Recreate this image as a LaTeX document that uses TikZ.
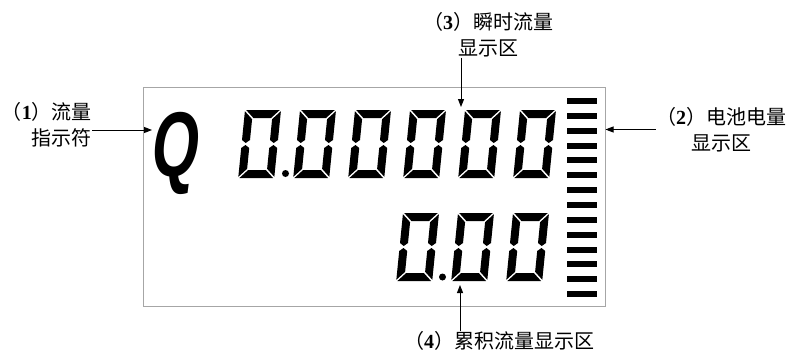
\documentclass[tikz,border=0pt]{standalone}
\usepackage{fontspec}
\setmainfont{Liberation Serif}
\newfontfamily\cjk{Noto Sans CJK SC}
\newfontfamily\qfont[FakeStretch=0.66,FakeSlant=0.12]{Liberation Sans}
\usetikzlibrary{arrows.meta}
\newcommand\pnum[1]{{\rmfamily\bfseries #1}}
\tikzset{
    lbl/.style={inner sep=0pt, align=center, font=\cjk\fontsize{20}{26}\selectfont},
    arr/.style={-{Triangle[length=8pt,width=6pt]}, line width=1pt},
    pics/lcdzero/.style={code={
        \fill (1.2,0) -- (34.8,0) -- (26.8,8) -- (9.2,8) -- cycle;
        \fill (0,1.2) -- (8,9.2) -- (8,30) -- (4,33) -- (0,30) -- cycle;
        \fill (36,1.2) -- (36,30) -- (32,33) -- (28,30) -- (28,9.2) -- cycle;
        \fill (4,35) -- (8,38) -- (8,58.8) -- (0,66.8) -- (0,38) -- cycle;
        \fill (32,35) -- (36,38) -- (36,66.8) -- (28,58.8) -- (28,38) -- cycle;
        \fill (1.2,68) -- (34.8,68) -- (26.8,60) -- (9.2,60) -- cycle;
    }}
}
\begin{document}
\begin{tikzpicture}[x=1pt, y=-1pt]
        \useasboundingbox (0,0) rectangle (789,356);
        \node[draw=gray!70, line width=1pt, minimum width=462pt, minimum height=219pt, inner sep=0pt] (panel) at (374,196.5) {};
        \node[font=\qfont\bfseries\fontsize{92}{92}\selectfont, inner sep=0pt, anchor=base] (qsym) at (173,176) {Q};
        \foreach \i in {0,...,5}
            \pic[xslant=0.1] at (245+55*\i,110) {lcdzero};
        \foreach \i in {0,...,2}
            \pic[xslant=0.1] at (403+55*\i,213) {lcdzero};
        \fill (285.5,173.5) circle[radius=3.5pt];
        \fill (442.5,277) circle[radius=3.5pt];
        \foreach \k in {0,...,13}
            \fill (567,98+14.85*\k) rectangle ++(30,6);
        \node[lbl, align=right, anchor=east] (lblflow) at (92,124.5) {（\pnum{1}）流量\\指示符};
        \node[lbl] (lblrate) at (488,35) {（\pnum{3}）瞬时流量\\显示区};
        \node[lbl] (lblbatt) at (721,129.5) {（\pnum{2}）电池电量\\显示区};
        \node[lbl] (lbltotal) at (499,341) {（\pnum{4}）累积流量显示区};
        \coordinate (qtip) at (152,130);
        \coordinate (ratetip) at (461,107);
        \coordinate (totaltip) at (460,285);
        \draw[arr] (qtip -| lblflow.east) -- (qtip);
        \draw[arr] (lblrate.south -| ratetip) -- (ratetip);
        \draw[arr] (lblbatt.west) -- (lblbatt.west -| panel.east);
        \draw[arr] (lbltotal.north -| totaltip) -- (totaltip);
    \end{tikzpicture}
\end{document}
